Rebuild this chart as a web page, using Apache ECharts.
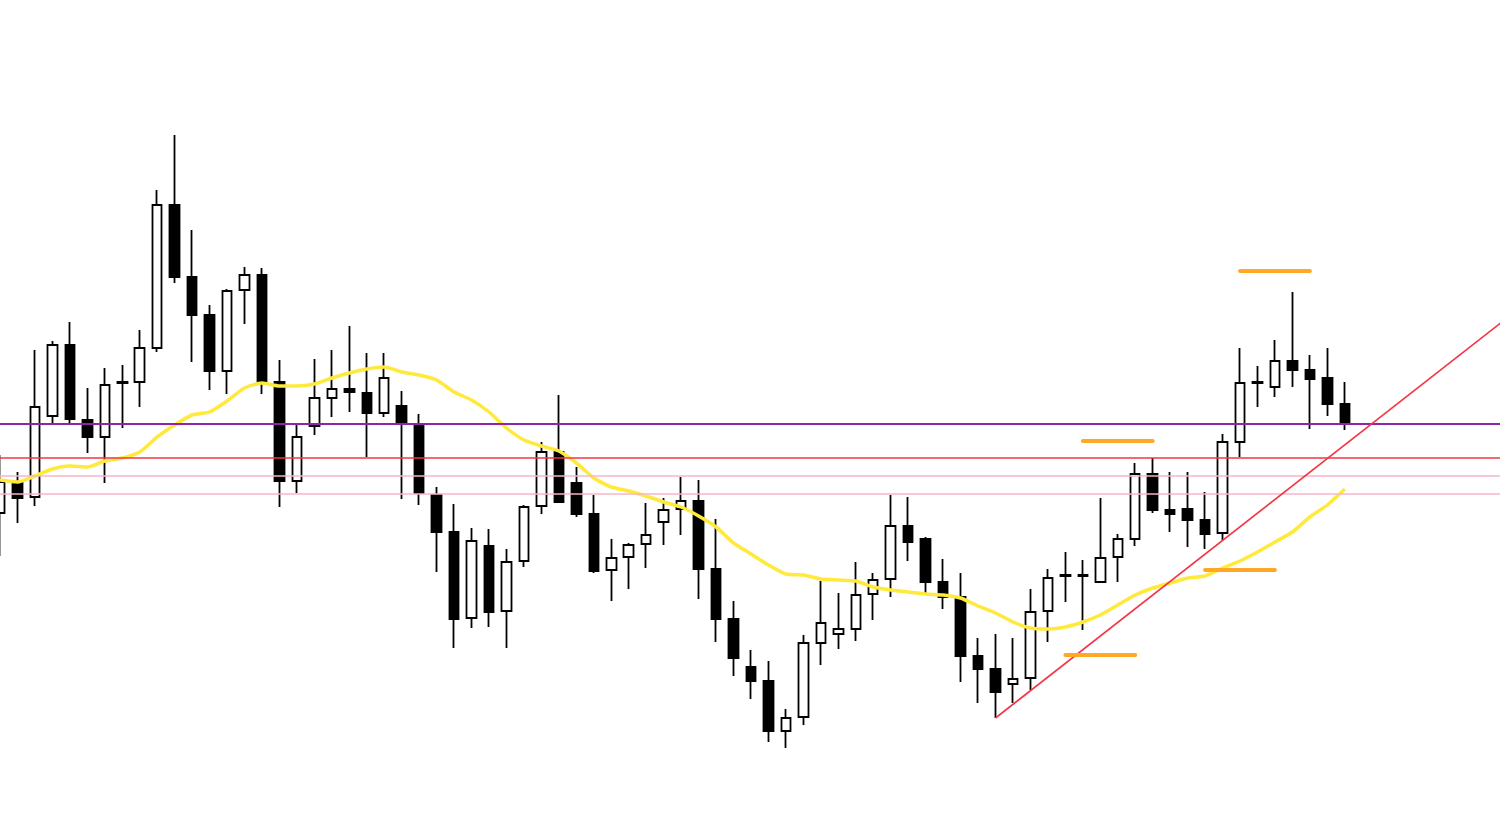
<!DOCTYPE html>
<html>
<head>
<meta charset="utf-8">
<title>chart</title>
<script src="https://cdn.jsdelivr.net/npm/echarts@6/dist/echarts.min.js"></script>
<style>
  html, body { margin: 0; padding: 0; background: #ffffff; }
  .charts { width: 1500px; height: 816px; }
</style>
</head>
<body>
<div class="charts" id="chart"></div>
<script>
// candles: open, close, low, high
const opens = [303, 334, 319, 400, 471, 396, 379, 433, 434, 468, 611, 539, 501, 445, 526, 541, 434, 335, 390, 418,
  427, 423, 403, 410, 392, 321, 284, 198, 270, 205, 255, 310, 364, 333, 302, 246, 259, 272, 294, 307,
  315, 247, 197, 149, 135, 85, 99, 173, 182, 187, 222, 237, 290, 277, 234, 219, 160, 147, 132, 138,
  205, 240, 240, 234, 259, 277, 342, 306, 307, 296, 283, 374, 433, 429, 455, 446, 438, 412];
const closes = [334, 318, 409, 471, 397, 379, 431, 434, 468, 611, 539, 501, 445, 525, 541, 434, 335, 379, 418, 427,
  424, 403, 438, 393, 323, 284, 197, 275, 204, 254, 309, 364, 314, 302, 245, 258, 271, 281, 306, 315,
  247, 197, 158, 135, 85, 98, 173, 193, 187, 221, 236, 290, 274, 234, 219, 160, 147, 124, 137, 204,
  238, 241, 241, 258, 277, 342, 306, 302, 296, 282, 374, 433, 434, 455, 446, 437, 412, 393];
const lows = [260, 293, 310, 392, 392, 363, 333, 388, 409, 464, 533, 454, 426, 422, 492, 422, 309, 323, 381, 399,
  404, 359, 399, 317, 311, 244, 168, 188, 189, 168, 249, 302, 314, 299, 243, 215, 227, 248, 271, 281,
  217, 174, 140, 117, 74, 68, 91, 151, 167, 175, 196, 219, 255, 222, 207, 134, 113, 98, 113, 126,
  174, 214, 186, 233, 234, 270, 303, 284, 269, 267, 276, 359, 409, 419, 429, 387, 400, 386];
const highs = [361, 344, 466, 475, 494, 428, 448, 451, 486, 626, 681, 586, 511, 527, 549, 548, 456, 392, 457, 466,
  490, 463, 463, 425, 402, 329, 312, 288, 287, 267, 311, 374, 421, 349, 321, 277, 273, 313, 318, 339,
  336, 297, 215, 166, 155, 107, 181, 235, 223, 254, 243, 321, 319, 279, 257, 243, 178, 182, 178, 227,
  247, 264, 256, 318, 282, 353, 358, 344, 344, 324, 382, 468, 450, 476, 524, 461, 468, 434];

// moving average as drawn on the chart
const maValues = [336, 334, 340, 347, 350, 349, 355, 358, 364, 379, 391, 401, 404, 415, 428, 433, 430, 430, 432, 438,
  443, 447, 449, 444, 441, 436, 424, 416, 404, 388, 376, 370, 365, 353, 338, 329, 325, 320, 314, 309,
  300, 289, 273, 262, 251, 242, 241, 237, 236, 235, 229, 226, 224, 222, 221, 218, 210, 203, 194, 188,
  187, 189, 194, 201, 211, 221, 228, 233, 238, 240, 248, 255, 264, 274, 284, 299, 311, 327];

// horizontal levels
const purpleLevel = 392.5;
const redLevel = 358.3;
const pinkLevels = [340, 322.3];

// short orange levels: [fromIndex, toIndex, value]
const orangeLevels = [
  [71, 75, 545],
  [62, 66, 375],
  [69, 73, 246],
  [61, 65, 161],
];

// trend line: [index, value]
const trendStart = [57, 98];
const trendEnd = [86, 494];

const slotCount = 88;

const categories = [];
for (let i = 0; i < slotCount; i++) categories.push(String(i));
const candleData = opens.map((o, i) => [o, closes[i], lows[i], highs[i]]);

const chart = document.getElementById("chart");
const myChart = echarts.init(chart);
const option = {
  animation: false,
  backgroundColor: "#ffffff",
  grid: {
    left: 0,
    top: 0,
    width: 17.465 * (slotCount - 1),
    height: 816,
    containLabel: false,
    outerBoundsMode: "none",
  },
  xAxis: {
    type: "category",
    data: categories,
    boundaryGap: false,
    show: false,
  },
  yAxis: {
    type: "value",
    min: 0,
    max: 816,
    show: false,
  },
  series: [
    {
      name: "price",
      type: "candlestick",
      barWidth: 10,
      z: 2,
      itemStyle: {
        color: "#ffffff",
        color0: "#000000",
        borderColor: "#000000",
        borderColor0: "#000000",
        borderWidth: 1.8,
      },
      data: candleData,
    },
    {
      name: "ma",
      type: "line",
      z: 3,
      data: maValues,
      showSymbol: false,
      smooth: 0.2,
      lineStyle: {
        color: "#ffe93b",
        width: 3.5,
      },
    },
    {
      name: "levels",
      type: "line",
      z: 4,
      data: [],
      markLine: {
        silent: true,
        symbol: ["none", "none"],
        label: { show: false },
        data: [
          { yAxis: pinkLevels[0], lineStyle: { color: "#f7b6cb", width: 1.6, type: "solid" } },
          { yAxis: pinkLevels[1], lineStyle: { color: "#f7b6cb", width: 1.6, type: "solid" } },
          { yAxis: redLevel, lineStyle: { color: "#f23645", width: 1.6, type: "solid" } },
          { yAxis: purpleLevel, lineStyle: { color: "#8e24aa", width: 1.8, type: "solid" } },
          [
            { coord: trendStart, lineStyle: { color: "#f23645", width: 1.6, type: "solid" } },
            { coord: trendEnd },
          ],
        ].concat(
          orangeLevels.map((s) => [
            { coord: [s[0], s[2]], lineStyle: { color: "#ffa726", width: 4, type: "solid", cap: "round" } },
            { coord: [s[1], s[2]] },
          ])
        ),
      },
    },
  ],
};
myChart.setOption(option);
</script>
</body>
</html>
